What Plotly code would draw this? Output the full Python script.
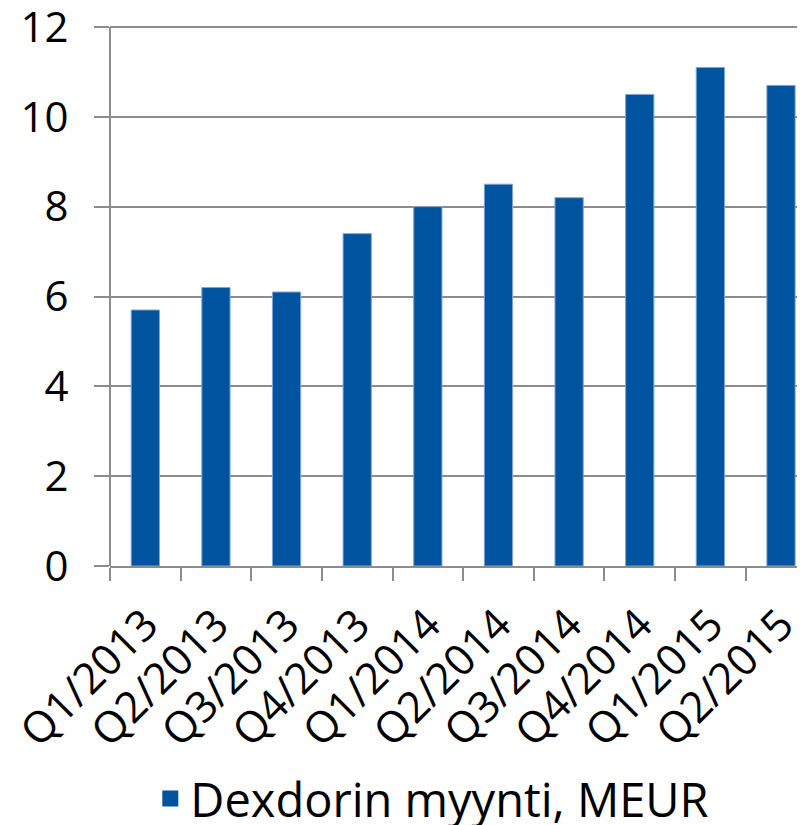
import plotly.graph_objects as go

categories = ["Q1/2013", "Q2/2013", "Q3/2013", "Q4/2013", "Q1/2014",
              "Q2/2014", "Q3/2014", "Q4/2014", "Q1/2015", "Q2/2015"]
sales = [5.7, 6.2, 6.1, 7.4, 8.0, 8.5, 8.2, 10.5, 11.1, 10.7]
series_name = "Dexdorin myynti, MEUR"
y_ticks = [0, 2, 4, 6, 8, 10, 12]

FONT = "Open Sans"
BLUE = "#00539F"
GRID = "#8c8c8c"

fig = go.Figure()
fig.add_trace(go.Bar(
    x=categories, y=sales, name=series_name,
    marker=dict(color=BLUE, line=dict(color="#7fa6d0", width=1)),
    showlegend=False,
))
# legend entry with a larger square swatch
fig.add_trace(go.Scatter(
    x=[None], y=[None], mode="markers", name=series_name,
    marker=dict(symbol="square", size=24, color=BLUE),
    showlegend=True,
))

fig.update_layout(
    width=797, height=817,
    margin=dict(l=102, r=0, t=6, b=259, autoexpand=False),
    paper_bgcolor="white", plot_bgcolor="white",
    font=dict(family=FONT, size=42, color="black"),
    bargap=0.6,
    showlegend=True,
    legend=dict(orientation="h", x=0.058, xanchor="left", y=-0.422, yanchor="middle",
                font=dict(size=47), itemwidth=30, tracegroupgap=0),
    xaxis=dict(
        type="category", range=[-0.5, 9.34], automargin=False,
        tickangle=-45, tickson="boundaries", ticks="outside", ticklen=13,
        tickcolor=GRID, tickwidth=2, ticklabeloverflow="allow",
        showline=True, linecolor=GRID, linewidth=2,
        showgrid=False, tickfont=dict(size=43), ticklabelstandoff=14,
    ),
    yaxis=dict(
        range=[0, 12.29], tickmode="array", tickvals=y_ticks,
        ticks="outside", ticklen=15, ticklabeloverflow="allow",
        tickcolor=GRID, tickwidth=2, automargin=False,
        showline=False,
        showgrid=True, gridcolor=GRID, gridwidth=2,
        zeroline=False, ticklabelstandoff=17, tickfont=dict(size=42),
    ),
)
# vertical axis line drawn from 0 to the top tick via a shape in data coordinates
fig.add_shape(type="line", xref="paper", x0=0, x1=0, yref="y", y0=0, y1=y_ticks[-1],
              line=dict(color=GRID, width=2))

fig.write_html("out.html")
